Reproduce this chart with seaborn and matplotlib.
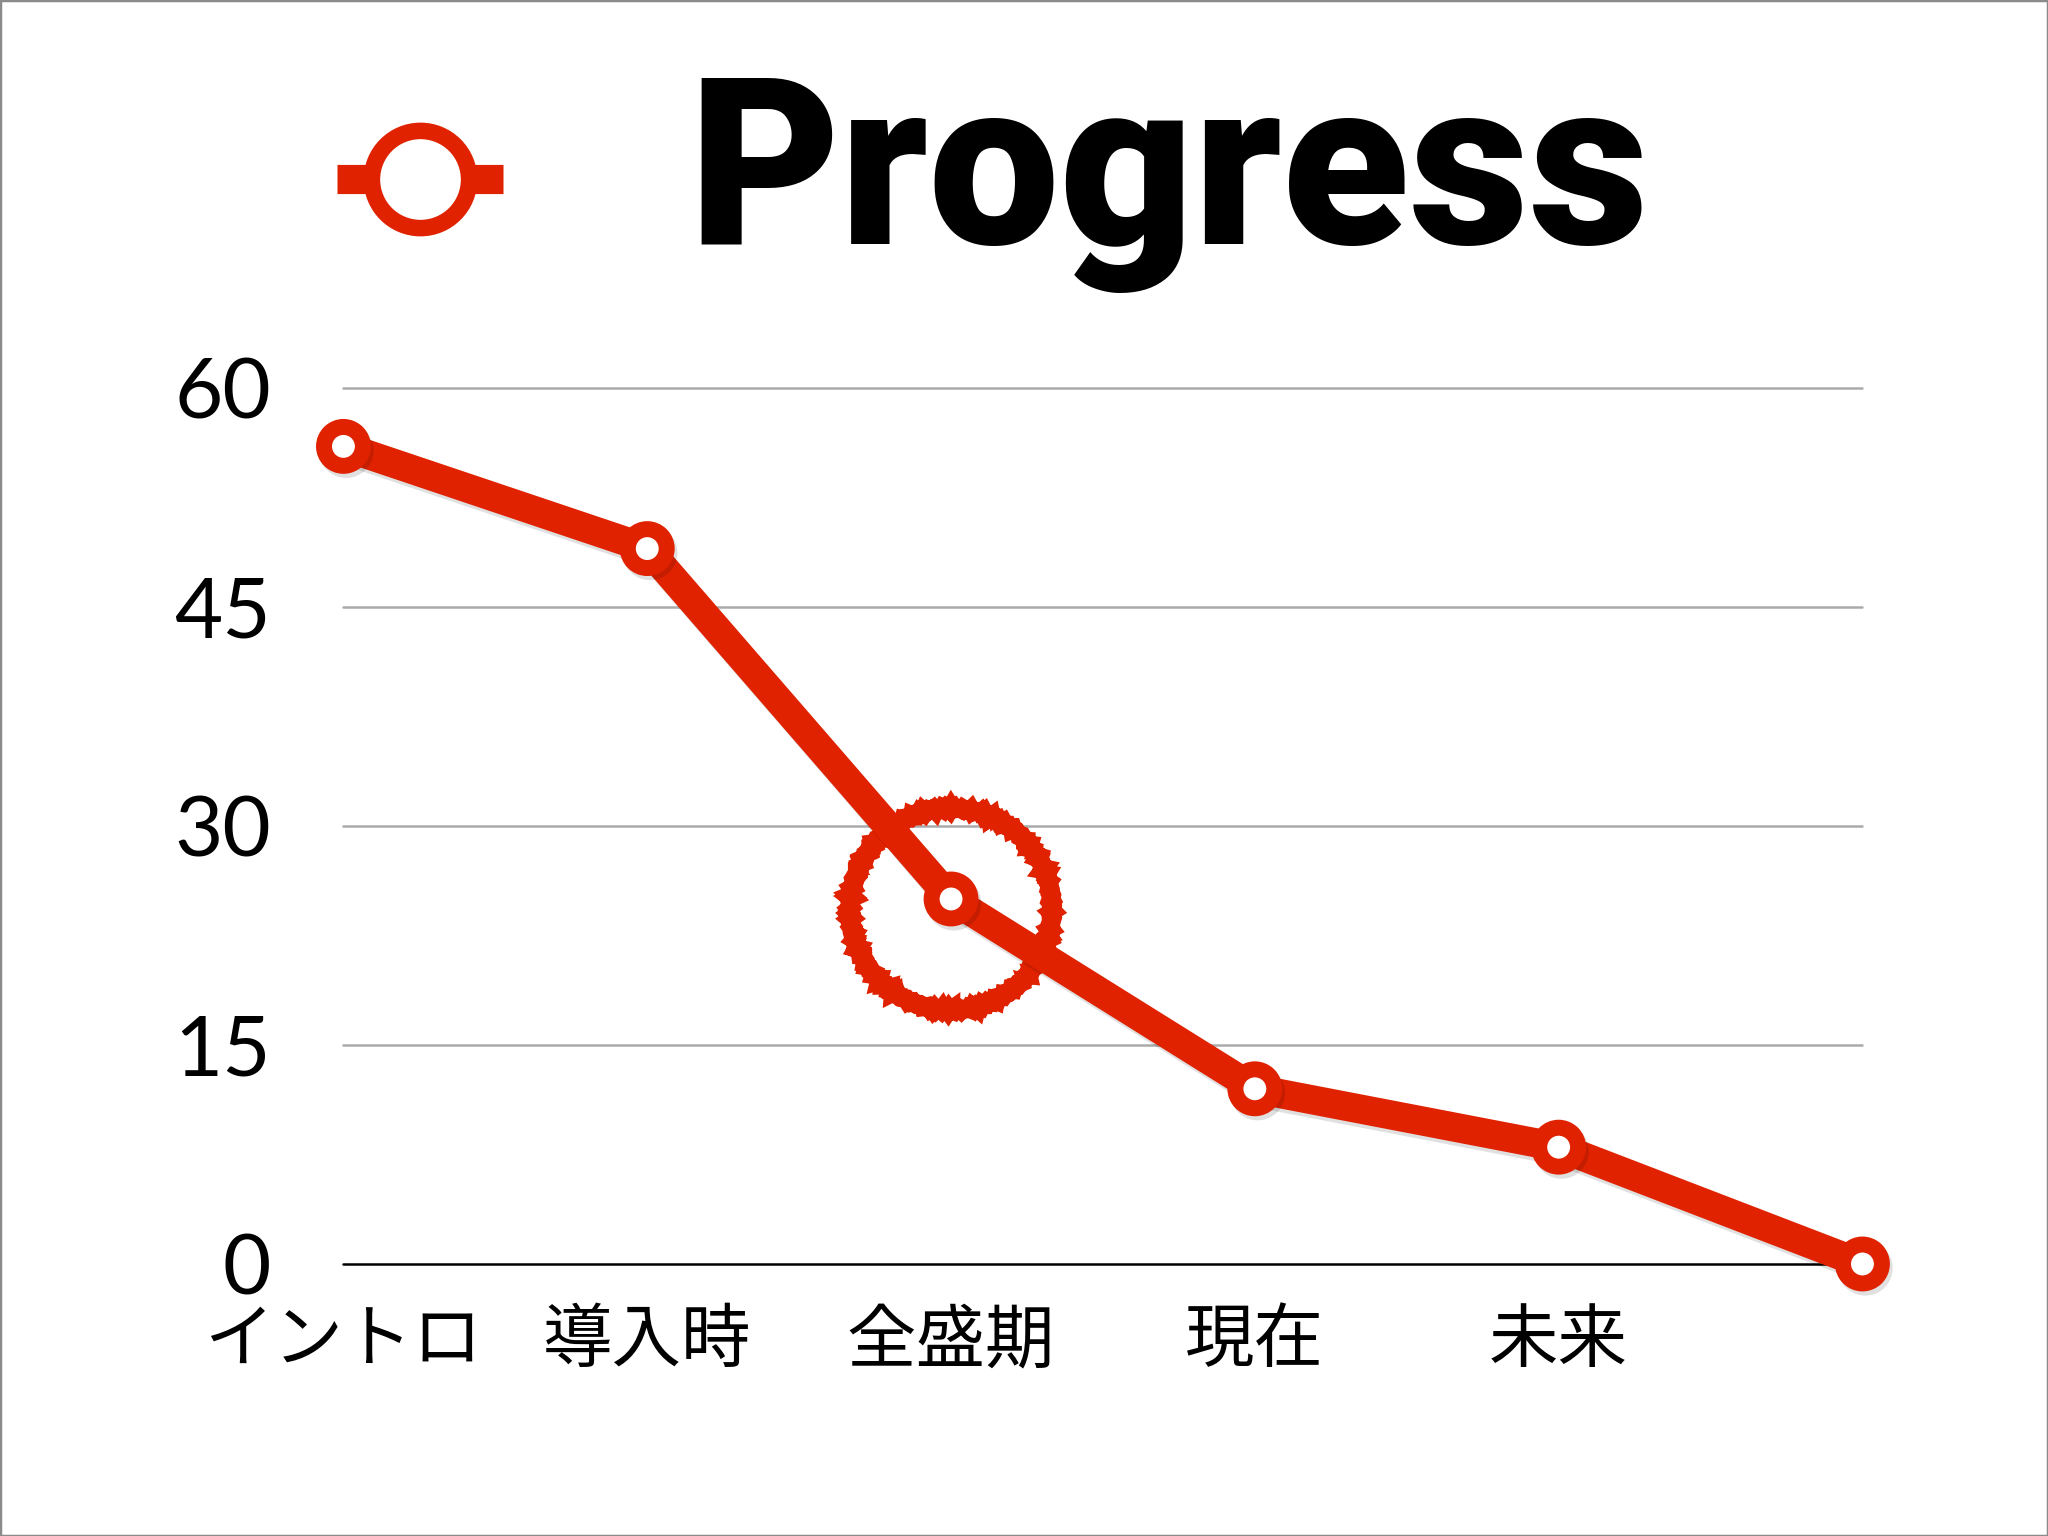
import numpy as np
import pandas as pd
import matplotlib
matplotlib.use("Agg")
import matplotlib.pyplot as plt
import matplotlib.patheffects as pe
import matplotlib.transforms as mtransforms
from matplotlib.lines import Line2D
from matplotlib.patches import Circle, Rectangle
import seaborn as sns

# ---- data ----
categories = ["イントロ", "導入時", "全盛期", "現在", "未来", ""]
values = [56, 49, 25, 12, 8, 0]
yticks = [0, 15, 30, 45, 60]
title_text = "Progress"
highlight_index = 2
highlight_value = 24.3

RED = "#E02200"

sns.set_theme(style="white")
plt.rcParams["font.family"] = ["Lato", "DejaVu Sans"]

fig = plt.figure(figsize=(20.48, 15.36), dpi=100)
fig.patch.set_facecolor("white")

ax = fig.add_axes([0.1677, 0.1771, 0.9094 - 0.1677, 0.7474 - 0.1771])
ax.set_facecolor("white")

df = pd.DataFrame({"idx": np.arange(len(values)), "value": values})

# gridlines
for v in yticks:
    if v == 0:
        ax.axhline(v, color="black", lw=1.8, zorder=1, clip_on=False)
    else:
        ax.axhline(v, color="#AAAAAA", lw=1.8, zorder=1, clip_on=False)

# highlight stamp circle (in pixel radius, anchored at data point)
stamp_tr = fig.dpi_scale_trans + mtransforms.ScaledTranslation(
    highlight_index, highlight_value, ax.transData)
for r, lw, sk in [(1.01, 13, (0.9, 4, 3)), (0.995, 8, (1.0, 3, 4)), (1.025, 5, (1.0, 3, 5))]:
    c = Circle((0, 0), radius=r, transform=stamp_tr, fill=False,
               edgecolor=RED, lw=lw, zorder=2, clip_on=False)
    c.set_sketch_params(*sk)
    ax.add_patch(c)

sns.lineplot(data=df, x="idx", y="value", ax=ax, color=RED, linewidth=21,
             marker="o", markersize=28, markeredgewidth=11.5,
             markerfacecolor="white", markeredgecolor=RED,
             solid_joinstyle="round", zorder=5, clip_on=False,
             path_effects=[pe.SimpleLineShadow(offset=(2, -3), shadow_color="black", alpha=0.12),
                           pe.Normal()])

ax.set_xlim(0, len(values) - 1)
ax.set_ylim(0, 60)
ax.grid(False)
for s in ax.spines.values():
    s.set_visible(False)

ax.set_yticks(yticks)
ax.set_yticklabels([str(v) for v in yticks], fontsize=60, color="black",
                   family=["Lato", "DejaVu Sans"])
ax.set_xticks(range(5))
ax.set_xticklabels(categories[:5], fontsize=50, color="black",
                   family=["Noto Sans CJK JP", "DejaVu Sans"])
ax.tick_params(axis="y", length=0, pad=52)
ax.tick_params(axis="x", length=0, pad=30)
ax.set_xlabel("")
ax.set_ylabel("")

# title
fig.text(1169 / 2048, 1 - 244 / 1536, title_text, ha="center", va="baseline",
         fontsize=168, fontweight="black", color="black",
         family=["Roboto", "Lato", "DejaVu Sans"])

# legend icon
yc = 1 - 179 / 1536
fig.add_artist(Line2D([337 / 2048, 503 / 2048], [yc, yc], transform=fig.transFigure,
                      color=RED, lw=21, solid_capstyle="butt"))
fig.add_artist(Line2D([420 / 2048], [yc], transform=fig.transFigure, marker="o",
                      markersize=70, markeredgewidth=11.9, markerfacecolor="white",
                      markeredgecolor=RED, linestyle="none"))

# frame border
fig.patches.append(Rectangle((0, 0), 1, 1, transform=fig.transFigure, fill=False,
                             edgecolor="#8A8A8A", lw=2.5))

fig.savefig("out.png", dpi=100)
